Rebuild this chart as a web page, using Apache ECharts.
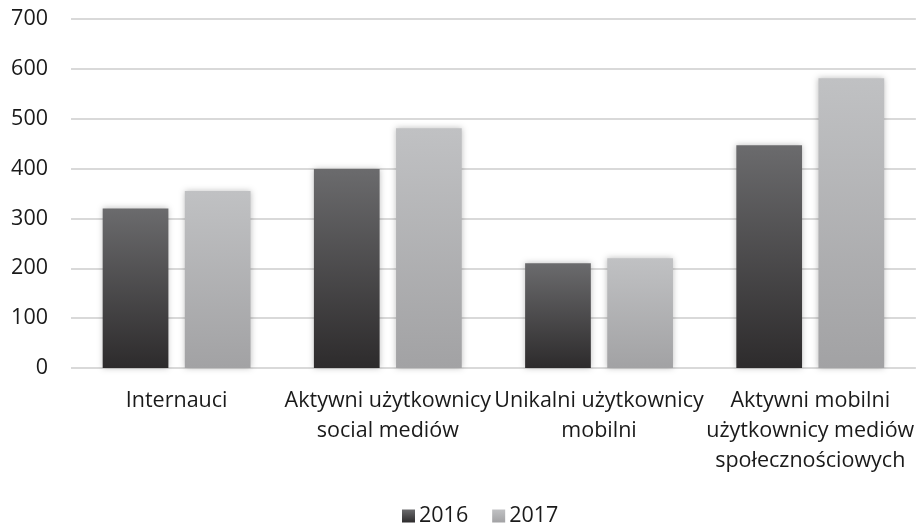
<!DOCTYPE html>
<html>
<head>
<meta charset="utf-8">
<script src="https://cdn.jsdelivr.net/npm/echarts@6/dist/echarts.min.js"></script>
<style>
  html, body { margin: 0; padding: 0; background: #fff; }
  #chart { width: 916px; height: 526px; }
</style>
</head>
<body>
<div id="chart"></div>
<script>
var categories = [
  'Internauci',
  'Aktywni użytkownicy\nsocial mediów',
  'Unikalni użytkownicy\nmobilni',
  'Aktywni mobilni\nużytkownicy mediów\nspołecznościowych'
];
var values2016 = [320, 399, 210, 447];
var values2017 = [355, 481, 220, 581];
var yTicks = [0, 100, 200, 300, 400, 500, 600, 700];

var chart = echarts.init(document.getElementById('chart'));
var font = "'Open Sans', sans-serif";

function grad(top, bottom) {
  return new echarts.graphic.LinearGradient(0, 0, 0, 1, [
    { offset: 0, color: top },
    { offset: 1, color: bottom }
  ]);
}

var option = {
  animation: false,
  textStyle: { fontFamily: font },
  grid: { left: 71, right: -10, top: 19, bottom: 158 },
  legend: {
    left: 402,
    top: 505,
    padding: 0,
    itemWidth: 13,
    itemHeight: 13,
    itemGap: 24,
    icon: 'rect',
    textStyle: { fontSize: 21.5, color: '#1a1a1a', fontFamily: font, padding: [0, 0, 0, -1] },
    data: ['2016', '2017']
  },
  xAxis: {
    type: 'category',
    data: categories,
    axisLine: { show: false },
    axisTick: { show: false },
    axisLabel: { fontSize: 21.5, color: '#1a1a1a', lineHeight: 30, margin: 18, interval: 0 }
  },
  yAxis: {
    type: 'value',
    min: yTicks[0],
    max: yTicks[yTicks.length - 1],
    interval: 100,
    axisLine: { show: false },
    axisTick: { show: false },
    axisLabel: { fontSize: 21.5, color: '#1a1a1a', margin: 23 },
    splitLine: { lineStyle: { color: '#d9d9d9', width: 2 } }
  },
  series: [
    {
      name: '2016',
      type: 'bar',
      data: values2016,
      barGap: '25%',
      barCategoryGap: '30%',
      itemStyle: {
        color: grad('#6b6b6d', '#2d2b2c'),
        shadowBlur: 6,
        shadowColor: 'rgba(0,0,0,0.25)'
      }
    },
    {
      name: '2017',
      type: 'bar',
      data: values2017,
      itemStyle: {
        color: grad('#c0c1c3', '#a2a2a4'),
        shadowBlur: 6,
        shadowColor: 'rgba(0,0,0,0.25)'
      }
    }
  ]
};
chart.setOption(option);
</script>
</body>
</html>
